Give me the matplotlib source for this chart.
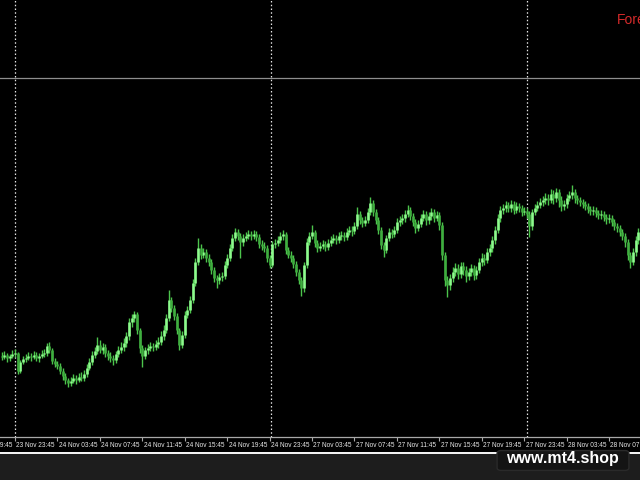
import numpy as np
import matplotlib.pyplot as plt
from matplotlib.patches import FancyBboxPatch, Rectangle

# M15 bars, prices in points above the base (1 point = 0.00001)
base = 1.08000
point = 0.00001
first_open = 144

close_pts = [143, 145, 142, 144, 146, 147, 129, 138, 141, 142,
             144, 143, 145, 142, 144, 146, 147, 154, 150, 139,
             136, 134, 129, 124, 120, 117, 119, 122, 120, 123,
             122, 126, 132, 138, 145, 149, 155, 150, 153, 147,
             144, 142, 140, 146, 150, 153, 157, 164, 178, 182,
             186, 170, 152, 144, 150, 152, 154, 153, 156, 158,
             164, 170, 182, 200, 192, 184, 170, 155, 165, 185,
             190, 200, 217, 238, 252, 245, 248, 242, 238, 230,
             222, 220, 223, 224, 235, 242, 252, 262, 268, 264,
             258, 262, 264, 266, 264, 266, 263, 256, 254, 252,
             242, 235, 256, 257, 260, 264, 266, 250, 245, 242,
             236, 228, 220, 212, 235, 258, 264, 268, 257, 252,
             254, 256, 253, 257, 260, 262, 260, 264, 265, 263,
             268, 270, 269, 274, 286, 280, 277, 280, 288, 297,
             288, 280, 270, 255, 250, 262, 268, 266, 270, 278,
             280, 282, 286, 290, 284, 278, 272, 276, 282, 286,
             280, 284, 288, 282, 285, 275, 245, 220, 215, 222,
             228, 232, 226, 234, 230, 224, 228, 232, 225, 230,
             238, 242, 240, 248, 252, 260, 270, 282, 290, 292,
             295, 292, 296, 290, 294, 292, 288, 289, 286, 274,
             288, 292, 295, 298, 300, 302, 300, 306, 302, 308,
             300, 294, 296, 302, 305, 308, 302, 300, 298, 296,
             294, 291, 289, 290, 287, 285, 286, 283, 281, 282,
             278, 274, 272, 268, 264, 258, 245, 238, 248, 260,
             268, 270]

high_pts = [148, 149, 147, 146, 150, 151, 148, 140, 144, 146,
            148, 147, 149, 148, 147, 150, 151, 157, 158, 152,
            142, 139, 137, 132, 127, 122, 123, 126, 125, 127,
            128, 130, 136, 142, 149, 153, 163, 160, 157, 156,
            150, 148, 145, 149, 154, 158, 162, 168, 182, 186,
            189, 188, 172, 155, 153, 156, 158, 157, 160, 163,
            169, 175, 186, 210, 203, 195, 187, 172, 169, 189,
            194, 204, 221, 242, 262, 256, 252, 251, 246, 241,
            233, 225, 227, 228, 239, 246, 256, 266, 272, 271,
            267, 266, 268, 270, 269, 270, 269, 266, 260, 258,
            255, 245, 259, 261, 264, 268, 270, 268, 253, 249,
            245, 239, 231, 223, 238, 262, 268, 275, 270, 260,
            258, 260, 259, 261, 264, 266, 265, 268, 269, 268,
            272, 274, 274, 278, 293, 289, 283, 284, 292, 303,
            300, 291, 283, 273, 258, 265, 272, 271, 274, 282,
            284, 286, 290, 295, 293, 287, 281, 280, 286, 290,
            289, 288, 292, 291, 289, 288, 278, 248, 224, 226,
            233, 237, 236, 238, 238, 234, 232, 236, 235, 234,
            242, 247, 246, 252, 256, 264, 274, 286, 294, 296,
            299, 298, 300, 299, 298, 297, 295, 293, 292, 289,
            291, 296, 299, 302, 304, 307, 306, 311, 310, 312,
            311, 304, 300, 306, 309, 315, 311, 305, 303, 301,
            299, 297, 294, 294, 293, 290, 290, 289, 286, 286,
            285, 281, 277, 275, 271, 267, 261, 248, 252, 264,
            272, 274]

low_pts = [140, 141, 138, 139, 142, 143, 126, 127, 136, 138,
           140, 139, 141, 139, 138, 142, 143, 144, 147, 136,
           133, 131, 126, 120, 116, 113, 114, 117, 116, 118,
           119, 119, 123, 130, 135, 142, 146, 147, 146, 143,
           140, 138, 135, 137, 143, 147, 149, 153, 160, 173,
           178, 166, 147, 133, 141, 146, 149, 149, 150, 152,
           155, 160, 167, 179, 188, 180, 166, 150, 152, 162,
           182, 187, 197, 214, 235, 241, 242, 238, 234, 226,
           218, 212, 216, 219, 221, 232, 239, 249, 259, 260,
           242, 254, 259, 261, 260, 261, 259, 252, 250, 248,
           238, 232, 233, 252, 254, 257, 260, 246, 242, 238,
           232, 224, 216, 204, 208, 232, 255, 261, 253, 248,
           249, 251, 249, 250, 254, 257, 256, 257, 260, 259,
           260, 265, 264, 266, 271, 276, 273, 274, 277, 285,
           284, 276, 266, 251, 243, 247, 259, 262, 263, 267,
           274, 276, 278, 283, 280, 274, 267, 269, 273, 279,
           275, 276, 280, 278, 279, 270, 240, 214, 203, 210,
           218, 224, 221, 222, 225, 218, 220, 224, 220, 221,
           227, 234, 235, 237, 244, 248, 256, 267, 278, 286,
           288, 288, 288, 286, 287, 288, 284, 285, 282, 263,
           270, 285, 289, 292, 294, 296, 295, 297, 296, 298,
           293, 289, 290, 292, 299, 301, 297, 296, 294, 292,
           290, 287, 285, 285, 283, 281, 281, 279, 276, 277,
           274, 270, 268, 264, 260, 253, 240, 232, 235, 244,
           256, 264]

time_labels = ["23 Nov 19:45", "23 Nov 23:45", "24 Nov 03:45", "24 Nov 07:45",
               "24 Nov 11:45", "24 Nov 15:45", "24 Nov 19:45", "24 Nov 23:45",
               "27 Nov 03:45", "27 Nov 07:45", "27 Nov 11:45", "27 Nov 15:45",
               "27 Nov 19:45", "27 Nov 23:45", "28 Nov 03:45", "28 Nov 07:45"]
label_bars = [-16, 0, 16, 32, 48, 64, 80, 96, 112, 128, 144, 160, 176, 192, 208, 224]
day_breaks = [0, 96.5, 193]
level_pts = 422

close = base + np.array(close_pts) * point
high = base + np.array(high_pts) * point
low = base + np.array(low_pts) * point
opn = np.concatenate([[base + first_open * point], close[:-1]])
bars = np.arange(len(close)) - 5

W, H = 640, 480
fig = plt.figure(figsize=(6.4, 4.8), dpi=100, facecolor='black')
ax = fig.add_axes([0, 43 / H, 1, 437 / H], facecolor='black')

# day separators and a horizontal level
for b in day_breaks:
    ax.axvline(b, color='#e6e6e6', lw=0.9, ls=(0, (1.2, 1.8)), zorder=1)
ax.axhline(base + level_pts * point, color='#8e8e8e', lw=0.9, zorder=1)

up = close >= opn
ax.vlines(bars, low, high, color='#4cc44c', lw=1.0, zorder=2)
ax.vlines(bars[up], opn[up], close[up], color='#8dfb8d', lw=1.9, zorder=3)
ax.vlines(bars[~up], close[~up], opn[~up], color='#3fae3f', lw=1.9, zorder=3)

for s in ['top', 'right', 'left']:
    ax.spines[s].set_visible(False)
ax.spines['bottom'].set_color('#a8a8a8')
ax.spines['bottom'].set_linewidth(0.9)
ax.set_yticks([])
ax.set_xticks(label_bars)
ax.set_xticklabels([])
ax.tick_params(axis='x', direction='out', length=3, width=0.8, color='#a8a8a8')

# limits last, so the ticks do not widen the view
ax.set_xlim(-5.66, -5.66 + 640 / 2.652)
ax.set_ylim(base + 63 * point, base + 500 * point)

for b, t in zip(label_bars, time_labels):
    ax.annotate(t, (b, 0), xycoords=('data', 'axes fraction'),
                xytext=(1, -6), textcoords='offset points',
                ha='left', va='center', color='#e8e8e8', fontsize=4.7,
                family='Liberation Sans', annotation_clip=False)

# bottom panel: white strip and dark grey status area
fig.patches.append(Rectangle((0, 0), 1, 26 / H, transform=fig.transFigure,
                             facecolor='#1d1d1d', edgecolor='none', zorder=0))
fig.patches.append(Rectangle((0, 26 / H), 1, 2.5 / H, transform=fig.transFigure,
                             facecolor='#f2f2f2', edgecolor='none', zorder=1))

# watermark
fig.patches.append(FancyBboxPatch((499 / W, 11 / H), 128 / W, 17 / H,
                                  boxstyle='round,pad=0.003,rounding_size=0.006',
                                  transform=fig.transFigure, facecolor='#141414',
                                  edgecolor='#2a2a2a', lw=1, zorder=2))
fig.text(562 / W, 22 / H, "www.mt4.shop", color='white', fontsize=11.5,
         fontweight='bold', family='Liberation Sans', ha='center', va='center')

# cut-off label in the top right corner
fig.text(617 / W, 1 - 20 / H, "Forex", color='#d42a2a', fontsize=10,
         family='Liberation Sans', ha='left', va='center')

fig.savefig('out.png', dpi=100, facecolor='black')
